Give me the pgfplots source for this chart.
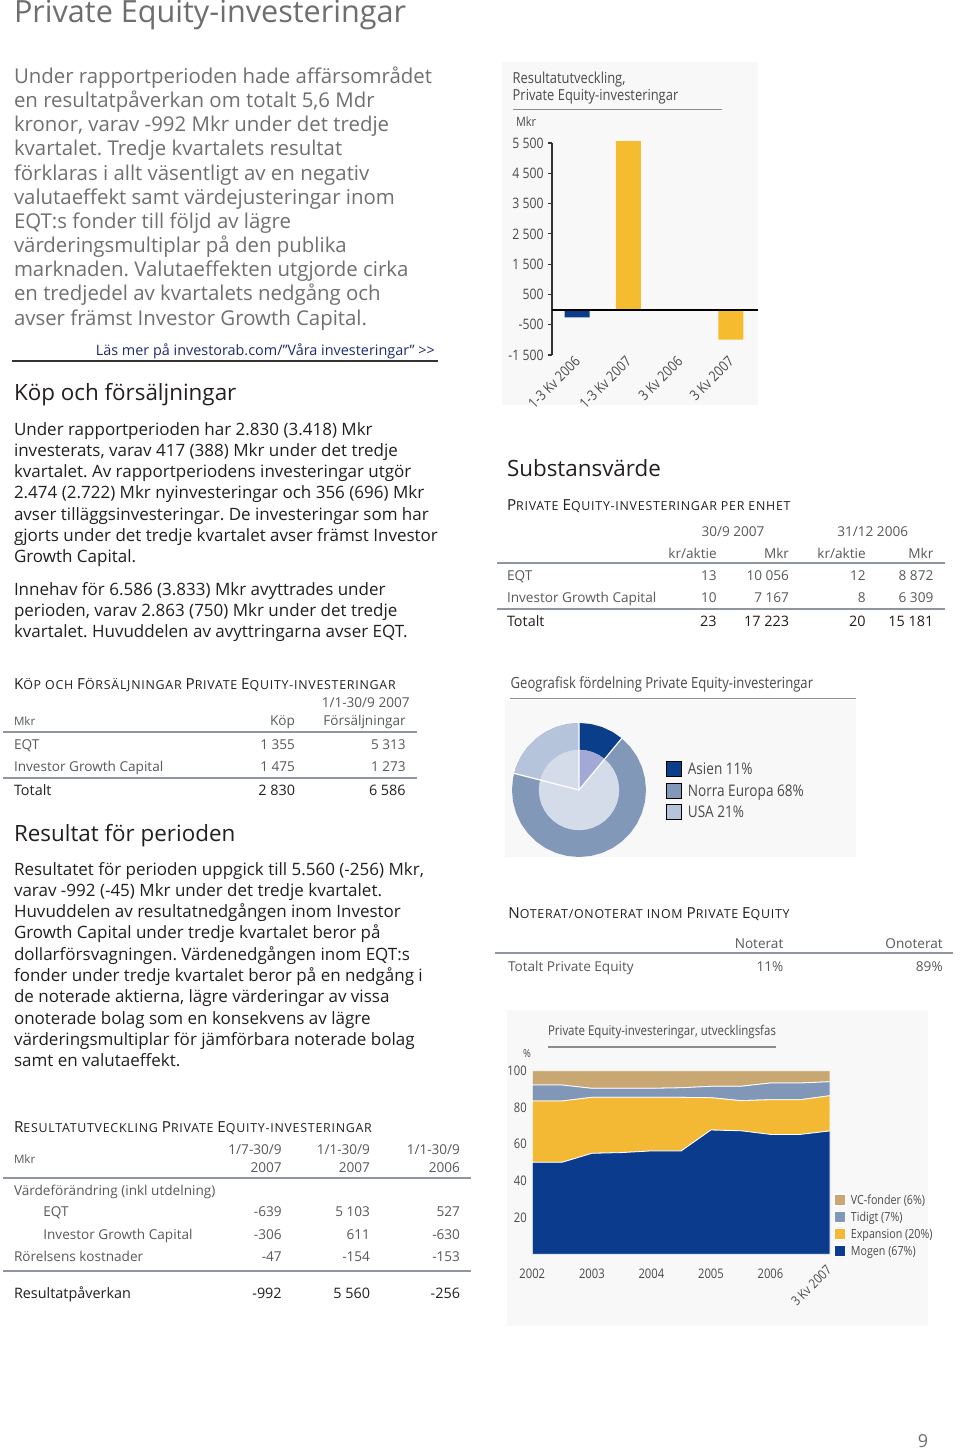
\documentclass[border=0pt]{standalone}
\usepackage{fontspec}
\setmainfont{Open Sans}
\newfontfamily\cf{Open Sans}[FakeStretch=0.85]
\newfontfamily\scfont{Open Sans}[LetterSpace=6.0]
\usepackage{pgfplots}
\pgfplotsset{compat=1.18}
\usepgfplotslibrary{polar}
\frenchspacing
\definecolor{titlegray}{HTML}{6D6E70}
\definecolor{introgray}{HTML}{707070}
\definecolor{bodyblack}{HTML}{231F20}
\definecolor{tablegray}{HTML}{58595B}
\definecolor{rulegray}{HTML}{8F96A0}
\definecolor{linkblue}{HTML}{1D2B6E}
\definecolor{chartgray}{HTML}{4A4A4A}
\definecolor{panel}{HTML}{F8F8F8}
\definecolor{barblue}{HTML}{0A3D8A}
\definecolor{baryellow}{HTML}{F5BC30}
\definecolor{ne}{HTML}{8298B9}
\definecolor{usa}{HTML}{B5C4DB}
\definecolor{asia}{HTML}{0A3D8A}
\definecolor{innerc}{HTML}{D4DCE9}
\definecolor{asiainner}{HTML}{A2A9D5}
\definecolor{mogen}{HTML}{0B3B8C}
\definecolor{expansion}{HTML}{F4B934}
\definecolor{tidigt}{HTML}{8097B7}
\definecolor{vc}{HTML}{C9A773}
\newcommand\fA{\fontsize{15.3}{17}\selectfont}
\newcommand\fB{\fontsize{10.2}{12}\selectfont}
\newcommand\fH{\fontsize{11.2}{13}\selectfont}
\newcommand\fP{\fontsize{8.5}{10}\selectfont}
\newcommand\fT{\fontsize{6.8}{8}\selectfont}
\newcommand\fTb{\fontsize{7.2}{8}\selectfont}
\newcommand\fM{\fontsize{5.8}{7}\selectfont}
\newcommand\fS{\fontsize{7.2}{8}\selectfont}
\newcommand\fSC{\scfont\fontsize{6.2}{7}\selectfont}
\newcommand\Cap[1]{{\fontsize{7.6}{8}\selectfont #1}}
\begin{document}
\begin{tikzpicture}
\useasboundingbox (0,0) rectangle (480pt,-725.5pt);
\fill[white] (0,0) rectangle (480pt,-725.5pt);
\begin{scope}[x=0.5pt,y=-0.5pt, every node/.style={inner sep=0pt, outer sep=0pt}]
% panels
\fill[panel] (502,62) rectangle (758,405);
\fill[panel] (505,700) rectangle (856,857);
\fill[panel] (507,1010) rectangle (928,1326);
% title
\node[anchor=base west, text=titlegray] at (14,23) {\fA Private Equity-investeringar};
% intro
\begin{scope}[every node/.append style={anchor=base west, text=introgray, font=\fB}]
\node at (14,83.5) {Under rapportperioden hade affärsområdet};
\node at (14,107.6) {en resultatpåverkan om totalt 5,6 Mdr};
\node at (14,131.8) {kronor, varav -992 Mkr under det tredje};
\node at (14,155.9) {kvartalet. Tredje kvartalets resultat};
\node at (14,180.1) {förklaras i allt väsentligt av en negativ};
\node at (14,204.2) {valutaeffekt samt värdejusteringar inom};
\node at (14,228.4) {EQT:s fonder till följd av lägre};
\node at (14,252.5) {värderingsmultiplar på den publika};
\node at (14,276.7) {marknaden. Valutaeffekten utgjorde cirka};
\node at (14,300.8) {en tredjedel av kvartalets nedgång och};
\node at (14,325) {avser främst Investor Growth Capital.};
\end{scope}
% link
\node[anchor=base east, text=linkblue] at (435,355) {\fS Läs mer på investorab.com/”Våra investeringar” >{}>};
\draw[line width=0.7pt, black!80] (12,361) -- (438,361);
% Köp och försäljningar
\node[anchor=base west, text=bodyblack] at (14,400) {\fH Köp och försäljningar};
\begin{scope}[every node/.append style={anchor=base west, text=bodyblack, font=\fP}]
\node at (14,435) {Under rapportperioden har 2.830 (3.418) Mkr};
\node at (14,456.3) {investerats, varav 417 (388) Mkr under det tredje};
\node at (14,477.6) {kvartalet. Av rapportperiodens investeringar utgör};
\node at (14,498.9) {2.474 (2.722) Mkr nyinvesteringar och 356 (696) Mkr};
\node at (14,520.2) {avser tilläggsinvesteringar. De investeringar som har};
\node at (14,541.5) {gjorts under det tredje kvartalet avser främst Investor};
\node at (14,562.8) {Growth Capital.};
\node at (14,595) {Innehav för 6.586 (3.833) Mkr avyttrades under};
\node at (14,616.3) {perioden, varav 2.863 (750) Mkr under det tredje};
\node at (14,637.6) {kvartalet. Huvuddelen av avyttringarna avser EQT.};
\end{scope}
% Köp table
\node[anchor=base west, text=bodyblack] at (14,689) {\fSC \Cap{K}ÖP OCH \Cap{F}ÖRSÄLJNINGAR \Cap{P}RIVATE \Cap{E}QUITY-INVESTERINGAR};
\node[anchor=base, text=tablegray] at (365.7,707.7) {\fT 1/1-30/9 2007};
\node[anchor=base west, text=tablegray] at (14,725.7) {\fM Mkr};
\node[anchor=base east, text=tablegray] at (295,725) {\fT Köp};
\node[anchor=base east, text=tablegray] at (405.7,725) {\fT Försäljningar};
\draw[line width=1pt, rulegray] (3,731.7) -- (416.7,731.7);
\begin{scope}[every node/.append style={text=tablegray, font=\fT}]
\node[anchor=base west] at (14,749.3) {EQT};
\node[anchor=base east] at (295,749.3) {1 355};
\node[anchor=base east] at (405.7,749.3) {5 313};
\node[anchor=base west] at (14,771.7) {Investor Growth Capital};
\node[anchor=base east] at (295,771.7) {1 475};
\node[anchor=base east] at (405.7,771.7) {1 273};
\end{scope}
\draw[line width=1pt, rulegray] (3,778.3) -- (416.7,778.3);
\begin{scope}[every node/.append style={text=bodyblack, font=\fTb}]
\node[anchor=base west] at (14,795) {Totalt};
\node[anchor=base east] at (295,795) {2 830};
\node[anchor=base east] at (405.7,795) {6 586};
\end{scope}
% Resultat för perioden
\node[anchor=base west, text=bodyblack] at (14,841.7) {\fH Resultat för perioden};
\begin{scope}[every node/.append style={anchor=base west, text=bodyblack, font=\fP}]
\node at (14,875) {Resultatet för perioden uppgick till 5.560 (-256) Mkr,};
\node at (14,896.3) {varav -992 (-45) Mkr under det tredje kvartalet.};
\node at (14,917.6) {Huvuddelen av resultatnedgången inom Investor};
\node at (14,938.9) {Growth Capital under tredje kvartalet beror på};
\node at (14,960.2) {dollarförsvagningen. Värdenedgången inom EQT:s};
\node at (14,981.5) {fonder under tredje kvartalet beror på en nedgång i};
\node at (14,1002.8) {de noterade aktierna, lägre värderingar av vissa};
\node at (14,1024.1) {onoterade bolag som en konsekvens av lägre};
\node at (14,1045.4) {värderingsmultiplar för jämförbara noterade bolag};
\node at (14,1066.7) {samt en valutaeffekt.};
\end{scope}
% Resultatutveckling table
\node[anchor=base west, text=bodyblack] at (14,1132.3) {\fSC \Cap{R}ESULTATUTVECKLING \Cap{P}RIVATE \Cap{E}QUITY-INVESTERINGAR};
\begin{scope}[every node/.append style={text=tablegray, font=\fT}]
\node[anchor=base east] at (281.7,1154.3) {1/7-30/9};
\node[anchor=base east] at (281.7,1172.3) {2007};
\node[anchor=base east] at (370,1154.3) {1/1-30/9};
\node[anchor=base east] at (370,1172.3) {2007};
\node[anchor=base east] at (460,1154.3) {1/1-30/9};
\node[anchor=base east] at (460,1172.3) {2006};
\node[anchor=base west, font=\fM] at (14,1163.3) {Mkr};
\node[anchor=base west] at (14,1195) {Värdeförändring (inkl utdelning)};
\node[anchor=base west] at (43.3,1216.7) {EQT};
\node[anchor=base east] at (281.7,1216.7) {-639};
\node[anchor=base east] at (370,1216.7) {5 103};
\node[anchor=base east] at (460,1216.7) {527};
\node[anchor=base west] at (43.3,1239) {Investor Growth Capital};
\node[anchor=base east] at (281.7,1239) {-306};
\node[anchor=base east] at (370,1239) {611};
\node[anchor=base east] at (460,1239) {-630};
\node[anchor=base west] at (14,1261.7) {Rörelsens kostnader};
\node[anchor=base east] at (281.7,1261.7) {-47};
\node[anchor=base east] at (370,1261.7) {-154};
\node[anchor=base east] at (460,1261.7) {-153};
\end{scope}
\draw[line width=1pt, rulegray] (3,1178.3) -- (470.7,1178.3);
\draw[line width=1pt, rulegray] (3,1271) -- (470.7,1271);
\begin{scope}[every node/.append style={text=bodyblack, font=\fTb}]
\node[anchor=base west] at (14,1298.3) {Resultatpåverkan};
\node[anchor=base east] at (281.7,1298.3) {-992};
\node[anchor=base east] at (370,1298.3) {5 560};
\node[anchor=base east] at (460,1298.3) {-256};
\end{scope}
% Substansvärde
\node[anchor=base west, text=bodyblack] at (507,476.7) {\fH Substansvärde};
\node[anchor=base west, text=bodyblack] at (507,510) {\fSC \Cap{P}RIVATE \Cap{E}QUITY-INVESTERINGAR PER ENHET};
\begin{scope}[every node/.append style={text=tablegray, font=\fT}]
\node[anchor=base] at (733,536.7) {30/9 2007};
\node[anchor=base] at (872.7,536.7) {31/12 2006};
\node[anchor=base east] at (716.7,558.3) {kr/aktie};
\node[anchor=base east] at (789,558.3) {Mkr};
\node[anchor=base east] at (865.7,558.3) {kr/aktie};
\node[anchor=base east] at (933.3,558.3) {Mkr};
\node[anchor=base west] at (507,580) {EQT};
\node[anchor=base east] at (716.7,580) {13};
\node[anchor=base east] at (789,580) {10 056};
\node[anchor=base east] at (865.7,580) {12};
\node[anchor=base east] at (933.3,580) {8 872};
\node[anchor=base west] at (507,602.7) {Investor Growth Capital};
\node[anchor=base east] at (716.7,602.7) {10};
\node[anchor=base east] at (789,602.7) {7 167};
\node[anchor=base east] at (865.7,602.7) {8};
\node[anchor=base east] at (933.3,602.7) {6 309};
\end{scope}
\draw[line width=1pt, rulegray] (496.7,563.3) -- (945,563.3);
\draw[line width=1pt, rulegray] (496.7,609.3) -- (945,609.3);
\begin{scope}[every node/.append style={text=bodyblack, font=\fTb}]
\node[anchor=base west] at (507,626.7) {Totalt};
\node[anchor=base east] at (716.7,626.7) {23};
\node[anchor=base east] at (789,626.7) {17 223};
\node[anchor=base east] at (865.7,626.7) {20};
\node[anchor=base east] at (933.3,626.7) {15 181};
\end{scope}
% Noterat
\node[anchor=base west, text=bodyblack] at (508.3,918.3) {\fSC \Cap{N}OTERAT/ONOTERAT INOM \Cap{P}RIVATE \Cap{E}QUITY};
\node[anchor=base east, text=tablegray] at (783.3,948.3) {\fT Noterat};
\node[anchor=base east, text=tablegray] at (942.7,948.3) {\fT Onoterat};
\draw[line width=1pt, rulegray] (495,953.3) -- (953,953.3);
\node[anchor=base west, text=tablegray] at (508,971.7) {\fT Totalt Private Equity};
\node[anchor=base east, text=tablegray] at (783.3,971.7) {\fT 11\%};
\node[anchor=base east, text=tablegray] at (942.7,971.7) {\fT 89\%};
% bar chart texts
\node[anchor=base west, text=chartgray] at (512.7,83) {\cf\fontsize{7.6}{9}\selectfont Resultatutveckling,};
\node[anchor=base west, text=chartgray] at (512.7,100.5) {\cf\fontsize{7.6}{9}\selectfont Private Equity-investeringar};
\draw[line width=0.6pt, black!45] (512.7,109.3) -- (721.7,109.3);
\node[anchor=base west, text=chartgray] at (516,126) {\cf\fontsize{6.4}{7}\selectfont Mkr};
% donut texts
\node[anchor=base west, text=chartgray] at (510.7,688.3) {\cf\fontsize{7.7}{9}\selectfont Geografisk fördelning Private Equity-investeringar};
\draw[line width=0.6pt, black!45] (510,698.3) -- (856,698.3);
% stacked texts
\node[anchor=base west, text=chartgray] at (548,1035) {\cf\fontsize{6.75}{8}\selectfont Private Equity-investeringar, utvecklingsfas};
\draw[line width=0.6pt, black!45] (548,1047) -- (776,1047);
\node[anchor=base west, text=chartgray] at (523,1057) {\cf\fontsize{5.6}{7}\selectfont \%};
% page number
\node[anchor=base, text=titlegray] at (923,1447) {\fontsize{9}{10}\selectfont 9};
\end{scope}

% ---------- bar chart ----------
\begin{axis}[anchor=south west, at={(276pt,-177.5pt)}, width=103pt, height=106pt, scale only axis,
  xmin=-0.49, xmax=3.53, ymin=-1500, ymax=5500, clip=false,
  axis lines=left, axis line style={-, line width=0.6pt, black!80},
  x axis line style={draw=none}, xtick style={draw=none},
  ytick style={line width=0.6pt, black!80}, tick align=outside, major tick length=2pt,
  ytick={-1500,-500,500,1500,2500,3500,4500,5500},
  yticklabels={-1 500,-500,500,1 500,2 500,3 500,4 500,5 500},
  yticklabel style={font=\cf\fontsize{7.2}{8}\selectfont, text=chartgray, inner sep=0pt, xshift=-2pt},
  xtick={0,1,2,3},
  xticklabels={1-3 Kv 2006,1-3 Kv 2007,3 Kv 2006,3 Kv 2007},
  xticklabel style={font=\cf\fontsize{7.2}{8}\selectfont, text=chartgray, rotate=45, anchor=north east, inner sep=0pt, xshift=0.2pt, yshift=2.65pt},
]
\addplot[ybar, bar width=12.5pt, bar shift=0pt, fill=barblue, draw=none] coordinates {(0,-256) (2,-45)};
\addplot[ybar, bar width=12.5pt, bar shift=0pt, fill=baryellow, draw=none] coordinates {(1,5560) (3,-992)};
\addplot[black, line width=1pt] coordinates {(-0.49,0) (3.53,0)};
\end{axis}

% ---------- donut ----------
\begin{polaraxis}[anchor=south west, at={(256pt,-428.5pt)}, width=67pt, height=67pt, scale only axis,
  ymin=0, ymax=1, hide axis, clip=false,
  legend style={draw=none, fill=none, at={(1.149,0.739)}, anchor=north west, inner sep=0pt, row sep=0pt,
    font=\cf\fontsize{8}{9}\selectfont, text=chartgray,
    nodes={inner sep=0pt, inner xsep=3pt, text height=8.2pt, text depth=2.55pt}},
  legend cell align=left,
  legend image code/.code={\fill[#1] (0pt,-3.675pt) rectangle (7.35pt,3.675pt);},
]
\addplot[fill=ne, draw=none, forget plot] coordinates {(0,1)(10,1)(20,1)(30,1)(40,1)(50,1)(60,1)(70,1)(80,1)(90,1)(100,1)(110,1)(120,1)(130,1)(140,1)(150,1)(160,1)(170,1)(180,1)(190,1)(200,1)(210,1)(220,1)(230,1)(240,1)(250,1)(260,1)(270,1)(280,1)(290,1)(300,1)(310,1)(320,1)(330,1)(340,1)(350,1)} -- cycle;
\addplot[fill=asia, draw=none, forget plot] coordinates {(0,0)(50.4,1)(60,1)(70,1)(80,1)(90,1)} -- cycle;
\addplot[fill=usa, draw=none, forget plot] coordinates {(0,0)(90,1)(100,1)(110,1)(120,1)(130,1)(140,1)(150,1)(160,1)(165.6,1)} -- cycle;
\addplot[fill=innerc, draw=none, forget plot] coordinates {(0,0.6)(10,0.6)(20,0.6)(30,0.6)(40,0.6)(50,0.6)(60,0.6)(70,0.6)(80,0.6)(90,0.6)(100,0.6)(110,0.6)(120,0.6)(130,0.6)(140,0.6)(150,0.6)(160,0.6)(170,0.6)(180,0.6)(190,0.6)(200,0.6)(210,0.6)(220,0.6)(230,0.6)(240,0.6)(250,0.6)(260,0.6)(270,0.6)(280,0.6)(290,0.6)(300,0.6)(310,0.6)(320,0.6)(330,0.6)(340,0.6)(350,0.6)} -- cycle;
\addplot[fill=asiainner, draw=none, forget plot] coordinates {(0,0)(50.4,0.6)(60,0.6)(70,0.6)(80,0.6)(90,0.6)} -- cycle;
\addplot[white, line width=0.6pt, forget plot] coordinates {(90,1)(0,0)(50.4,1)};
\addplot[white, line width=0.6pt, forget plot] coordinates {(0,0)(165.6,1)};
\addlegendimage{fill=asia}\addlegendentry{Asien 11\%}
\addlegendimage{fill=ne}\addlegendentry{Norra Europa 68\%}
\addlegendimage{fill=usa}\addlegendentry{USA 21\%}
\end{polaraxis}

% ---------- stacked area ----------
\begin{axis}[anchor=south west, at={(266.15pt,-627.15pt)}, width=148.85pt, height=91.8pt, scale only axis,
  xmin=0, xmax=10, ymin=0, ymax=100, stack plots=y, area style, clip=false,
  axis line style={draw=none}, tick style={draw=none}, major tick length=0pt,
  ytick={20,40,60,80,100}, yticklabels={20,40,60,80,100},
  yticklabel style={font=\cf\fontsize{6.6}{7}\selectfont, text=chartgray, anchor=east, inner sep=0pt, xshift=-2.6pt},
  xtick={0,2,4,6,8}, xticklabels={2002,2003,2004,2005,2006},
  xticklabel style={font=\cf\fontsize{6.6}{7}\selectfont, text=chartgray, anchor=north, inner sep=0pt, text height=4.7pt, text depth=0pt, yshift=-7pt},
  extra x ticks={10}, extra x tick labels={3 Kv 2007},
  extra x tick style={xticklabel style={rotate=45, anchor=north east, yshift=3pt, xshift=0pt}},
  legend style={draw=none, fill=none, at={(1.0134,0.346)}, anchor=north west, inner sep=0pt, row sep=0pt,
    font=\cf\fontsize{6.3}{7}\selectfont, text=chartgray,
    nodes={inner sep=0pt, inner xsep=2.5pt, text height=6.5pt, text depth=2.05pt}},
  legend cell align=left, reverse legend,
  legend image code/.code={\fill[#1] (0pt,-2.675pt) rectangle (5.35pt,2.675pt);},
]
\addplot[fill=mogen, draw=white, line width=0.4pt] table {
x y
0 50.1
1 50.1
2 55.0
3 55.4
4 56.3
5 56.3
6 67.7
7 67.3
8 65.3
9 65.3
10 67.2
} \closedcycle;
\addlegendentry{Mogen (67\%)}
\addplot[fill=expansion, draw=white, line width=0.4pt] table {
x y
0 33.4
1 33.4
2 30.5
3 30.1
4 29.2
5 29.2
6 17.6
7 16.4
8 18.9
9 18.9
10 19.2
} \closedcycle;
\addlegendentry{Expansion (20\%)}
\addplot[fill=tidigt, draw=white, line width=0.4pt] table {
x y
0 8.7
1 8.7
2 4.9
3 4.9
4 4.9
5 5.2
6 6.2
7 7.8
8 9.1
9 9.1
10 7.6
} \closedcycle;
\addlegendentry{Tidigt (7\%)}
\addplot[fill=vc, draw=white, line width=0.4pt] table {
x y
0 7.8
1 7.8
2 9.6
3 9.6
4 9.6
5 9.3
6 8.5
7 8.5
8 6.7
9 6.7
10 6.0
} \closedcycle;
\addlegendentry{VC-fonder (6\%)}
\end{axis}
\end{tikzpicture}
\end{document}
